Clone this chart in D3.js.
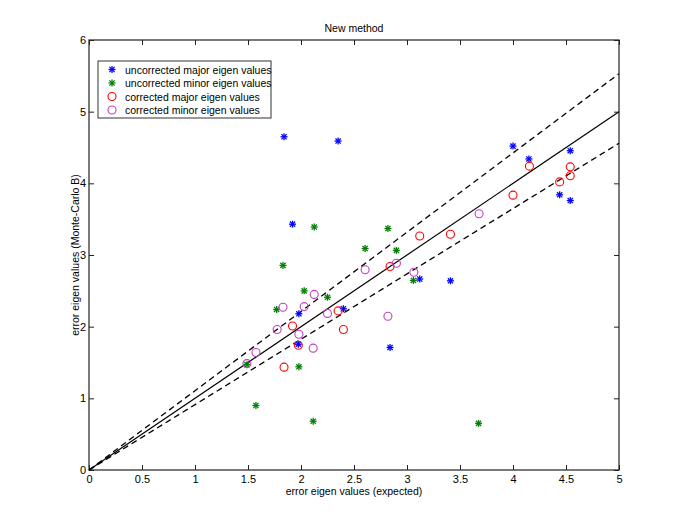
<!DOCTYPE html>
<html>
<head>
<meta charset="utf-8">
<script src="https://cdn.jsdelivr.net/npm/d3@7"></script>
<style>
  body { margin: 0; background: #fff; }
  text { font-family: "Liberation Sans", Arial, sans-serif; }
</style>
</head>
<body>
<svg id="canvas" width="685" height="530"></svg>
<script>
// expected vs Monte-Carlo B values
let uncorrMajorX = [1.84, 2.35, 1.92, 4.00, 4.15, 4.54, 4.44, 4.54, 2.40, 3.12, 3.41, 2.84, 1.98, 1.975]
let uncorrMajorY = [4.65, 4.59, 3.43, 4.52, 4.34, 4.455, 3.84, 3.76, 2.25, 2.665, 2.64, 1.71, 2.18, 1.755]

let uncorrMinorX = [2.125, 2.605, 2.82, 2.90, 1.83, 2.03, 2.25, 1.77, 1.98, 1.575, 2.115, 1.49, 3.06, 3.675]
let uncorrMinorY = [3.39, 3.09, 3.37, 3.065, 2.855, 2.50, 2.41, 2.24, 1.44, 0.90, 0.68, 1.47, 2.645, 0.65]

let corrMajorX = [3.12, 3.41, 4.155, 4.54, 4.54, 4.44, 4.00, 2.84, 2.35, 2.40, 1.92, 1.975, 1.84]
let corrMajorY = [3.265, 3.29, 4.24, 4.23, 4.105, 4.02, 3.835, 2.84, 2.22, 1.96, 2.01, 1.74, 1.435]

let corrMinorX = [3.68, 2.605, 2.90, 3.065, 2.82, 2.125, 1.83, 2.03, 2.25, 1.775, 1.98, 2.115, 1.575, 1.49]
let corrMinorY = [3.575, 2.795, 2.885, 2.76, 2.145, 2.45, 2.27, 2.28, 2.185, 1.96, 1.895, 1.70, 1.64, 1.485]

let xTicks = [0, 0.5, 1, 1.5, 2, 2.5, 3, 3.5, 4, 4.5, 5]
let yTicks = [0, 1, 2, 3, 4, 5, 6]

// reference lines: y = x and the two dashed bounds (end values at x = 5)
let refLineEnds = [5, 5.53, 4.56]
let legendLabels = ['uncorrected major eigen values', 'uncorrected minor eigen values',
                    'corrected major eigen values', 'corrected minor eigen values']

let canvas = d3.select('#canvas')

let plotLeft = 89, plotRight = 619, plotTop = 40, plotBottom = 470

let x = d3.scaleLinear().domain([0, 5]).range([plotLeft, plotRight])
let y = d3.scaleLinear().domain([0, 6]).range([plotBottom, plotTop])

// title + axis labels
canvas.append('text')
  .attr('x', (plotLeft + plotRight) / 2).attr('y', 32)
  .attr('text-anchor', 'middle').attr('font-size', 10.5)
  .text('New method')

canvas.append('text')
  .attr('x', (plotLeft + plotRight) / 2).attr('y', 495)
  .attr('text-anchor', 'middle').attr('font-size', 10.5)
  .text('error eigen values (expected)')

canvas.append('text')
  .attr('transform', 'translate(79,' + ((plotTop + plotBottom) / 2) + ') rotate(-90)')
  .attr('text-anchor', 'middle').attr('font-size', 10.5)
  .text('error eigen values (Monte-Carlo B)')

// axes, ticks point inwards like matlab
let tickLen = 5
let axisColor = '#222'

canvas.append('g')
  .attr('transform', 'translate(0,' + plotBottom + ')')
  .call(d3.axisBottom(x).tickValues(xTicks).tickSize(-tickLen).tickPadding(5).tickFormat(d3.format('')))
  .call(g => g.select('.domain').remove())

canvas.append('g')
  .attr('transform', 'translate(0,' + plotTop + ')')
  .call(d3.axisTop(x).tickValues(xTicks).tickSize(-tickLen).tickFormat(''))
  .call(g => g.select('.domain').remove())

canvas.append('g')
  .attr('transform', 'translate(' + plotLeft + ',0)')
  .call(d3.axisLeft(y).tickValues(yTicks).tickSize(-tickLen).tickPadding(3).tickFormat(d3.format('')))
  .call(g => g.select('.domain').remove())

canvas.append('g')
  .attr('transform', 'translate(' + plotRight + ',0)')
  .call(d3.axisRight(y).tickValues(yTicks).tickSize(-tickLen).tickFormat(''))
  .call(g => g.select('.domain').remove())

canvas.selectAll('.tick line').attr('stroke', axisColor)
canvas.selectAll('.tick text').attr('font-size', 11).attr('fill', '#000')
  .attr('font-family', '"Liberation Sans", Arial, sans-serif')

canvas.append('rect')
  .attr('x', plotLeft).attr('y', plotTop)
  .attr('width', plotRight - plotLeft).attr('height', plotBottom - plotTop)
  .attr('fill', 'none').attr('stroke', axisColor).attr('stroke-width', 1.2)

// reference lines
refLineEnds.forEach((end, i) => {
  canvas.append('line')
    .attr('x1', x(0)).attr('y1', y(0))
    .attr('x2', x(5)).attr('y2', y(end))
    .attr('stroke', '#000')
    .attr('stroke-width', i === 0 ? 1.2 : 1.3)
    .attr('stroke-dasharray', i === 0 ? null : '6,4')
})

let star = (g, color) => {
  g.append('line').attr('x1', -3.5).attr('x2', 3.5).attr('y1', 0).attr('y2', 0)
  g.append('line').attr('x1', 0).attr('x2', 0).attr('y1', -3.5).attr('y2', 3.5)
  g.append('line').attr('x1', -2.6).attr('x2', 2.6).attr('y1', -2.6).attr('y2', 2.6)
  g.append('line').attr('x1', -2.6).attr('x2', 2.6).attr('y1', 2.6).attr('y2', -2.6)
  g.selectAll('line').attr('stroke', color).attr('stroke-width', 1.3)
}
let ring = (g, color) => {
  g.append('circle').attr('r', 4).attr('fill', 'none').attr('stroke', color).attr('stroke-width', 1.1)
}

let series = [
  { xs: uncorrMajorX, ys: uncorrMajorY, color: '#0000ff', mark: star },
  { xs: uncorrMinorX, ys: uncorrMinorY, color: '#008000', mark: star },
  { xs: corrMajorX, ys: corrMajorY, color: '#ff0000', mark: ring },
  { xs: corrMinorX, ys: corrMinorY, color: '#bf3fbf', mark: ring }
]

series.forEach(s => {
  let pts = s.xs.map((v, i) => [v, s.ys[i]])
  canvas.append('g')
    .selectAll('g')
    .data(pts)
    .enter()
    .append('g')
    .attr('transform', d => 'translate(' + x(d[0]) + ',' + y(d[1]) + ')')
    .each(function () { s.mark(d3.select(this), s.color) })
})

// legend
let legend = canvas.append('g').attr('transform', 'translate(98,61)')
legend.append('rect')
  .attr('width', 173).attr('height', 57)
  .attr('fill', '#fff').attr('stroke', '#333').attr('stroke-width', 1)

series.forEach((s, i) => {
  let row = legend.append('g').attr('transform', 'translate(0,' + (8.5 + i * 13.5) + ')')
  s.mark(row.append('g').attr('transform', 'translate(14,0)'), s.color)
  row.append('text')
    .attr('x', 27).attr('y', 4)
    .attr('font-size', 10.5)
    .text(legendLabels[i])
})
</script>
</body>
</html>
